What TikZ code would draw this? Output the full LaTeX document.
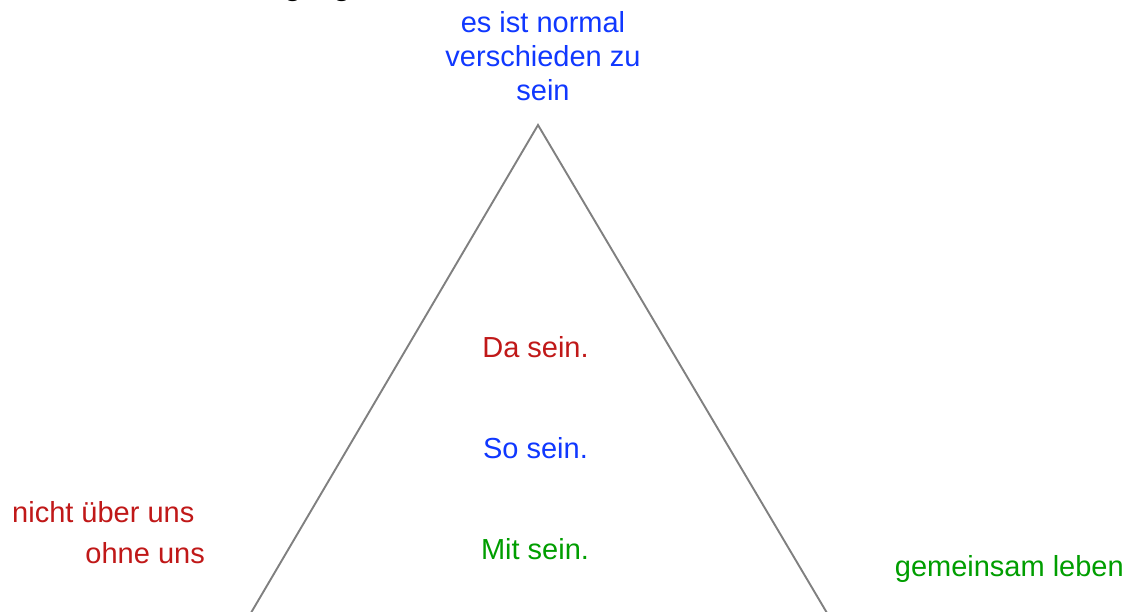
\documentclass[tikz,border=0pt]{standalone}
\usepackage{fontspec}
\setmainfont{Liberation Sans}
\definecolor{tred}{RGB}{192,24,24}
\definecolor{tblue}{RGB}{16,56,255}
\definecolor{tgreen}{RGB}{0,158,0}
\definecolor{tgray}{RGB}{128,128,128}
\begin{document}
\begin{tikzpicture}[x=1pt,y=-1pt,
  lbl/.style={inner sep=0pt,anchor=base,font=\fontsize{29}{34}\selectfont},
  edge/.style={draw=tgray,line width=1.9pt,line join=miter}]
\useasboundingbox (0,0) rectangle (1132,611);
\fill[white] (0,0) rectangle (1132,611);
\clip (0,0) rectangle (1132,611);
% partly visible title (descenders only)
\node[lbl,font=\fontsize{29}{34}\selectfont\bfseries] (t1) at (293,-5) {g};
\node[lbl,font=\fontsize{29}{34}\selectfont\bfseries] (t2) at (342,-5) {g};
% triangle
\coordinate (apex) at (538,125);
\coordinate (bl) at (235,640);
\coordinate (br) at (843,640);
\draw[edge] (bl) -- (apex) -- (br);
% texts
\node[lbl,text=tblue,align=center] (top) at (543,100) {es ist normal\\verschieden zu\\sein};
\node[lbl,text=tred] (da) at (535.5,357) {Da sein.};
\node[lbl,text=tblue] (so) at (535.5,458) {So sein.};
\node[lbl,text=tgreen] (mit) at (535,559) {Mit sein.};
\node[lbl,text=tred,anchor=base west] (nicht) at (12,522) {nicht über uns};
\node[lbl,text=tred,anchor=base east] (ohne) at (205,563) {ohne uns};
\node[lbl,text=tgreen,anchor=base east] (gem) at (1124,576) {gemeinsam leben};
\end{tikzpicture}
\end{document}
